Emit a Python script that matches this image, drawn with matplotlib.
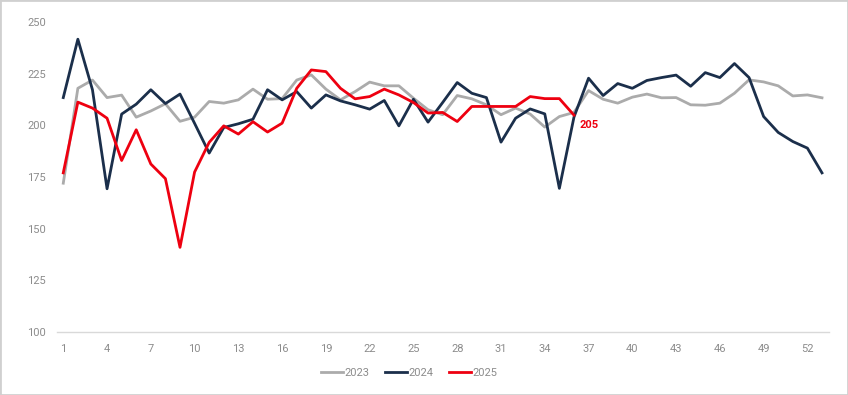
import matplotlib.pyplot as plt
from matplotlib.patches import Rectangle

plt.rcParams['font.family'] = ['Roboto', 'DejaVu Sans']

# semanas
semanas = list(range(1, 54))

v2023 = [172, 218, 222, 213.5, 214.7, 204, 207, 210.5, 202, 204,
         211.6, 210.8, 212.4, 217.6, 212.7, 213, 222, 224.5, 217.6, 212.4,
         216.4, 221, 219.2, 219.2, 213.2, 207.6, 205.2, 214.5, 212.9, 210,
         205.2, 208.4, 205.5, 199.2, 204.3, 206.3, 216.9, 212.7, 210.8, 213.7,
         215.2, 213.4, 213.5, 210, 209.8, 210.8, 215.6, 222.1, 221.1, 219.2,
         214.3, 214.8, 213.4]

v2024 = [213.5, 241.8, 217.3, 169.3, 205.5, 210.3, 217.3, 210.6, 215.2, 201,
         186.6, 199, 200.8, 203, 217.3, 212.4, 216.4, 208.4, 214.8, 211.9,
         210, 207.9, 212.1, 199.8, 212.7, 201.6, 211.1, 220.8, 215.6, 213.5,
         191.9, 203.5, 208, 205.6, 169.5, 204, 222.9, 214.5, 220.3, 218,
         221.8, 223.2, 224.4, 219, 225.6, 223.2, 230, 223.2, 204.3, 196.6,
         192.2, 189, 177]

v2025 = [177, 211.3, 208.4, 203.5, 183, 197.9, 181.3, 174.2, 140.9, 177.4,
         191.8, 199.8, 195.8, 201.8, 196.8, 201.1, 218, 226.9, 226.1, 218,
         212.9, 214, 217.6, 214.8, 211.1, 206, 206.3, 201.9, 209.2, 209.2,
         209.2, 209.2, 214, 213, 213, 205]

cinza = "#ababab"
azul = "#1b2f4b"
vermelho = "#ee0010"
txt = "#8c8c8c"

fig = plt.figure(figsize=(8.48, 3.95), dpi=100)
ax = fig.add_axes([57/848, 1 - 331.7/395, (829 - 57)/848, (331.7 - 22.3)/395])

ax.plot(semanas, v2023, color=cinza, linewidth=2.0, label="2023")
ax.plot(semanas, v2024, color=azul, linewidth=2.0, label="2024")
ax.plot(semanas[:len(v2025)], v2025, color=vermelho, linewidth=2.0, label="2025")

# rótulo do último valor
ax.annotate(f"{v2025[-1]:.0f}", (len(v2025), v2025[-1]), xytext=(4, -7),
            textcoords="offset points", ha="left", va="center",
            color=vermelho, fontsize=8, fontweight="bold")

ax.set_xlim(0.57, 53.48)
ax.set_ylim(100, 250)
ax.set_xticks(list(range(1, 53, 3)))
ax.set_yticks([100, 125, 150, 175, 200, 225, 250])

for s in ["top", "right", "left"]:
    ax.spines[s].set_visible(False)
ax.spines["bottom"].set_color("#d9d9d9")
ax.spines["bottom"].set_linewidth(1.0)
ax.tick_params(axis="both", length=0, labelsize=8, colors=txt)
ax.tick_params(axis="y", pad=8)
ax.tick_params(axis="x", pad=9)

fig.legend(loc="center", bbox_to_anchor=(409/848, 1 - 373/395), ncol=3,
           frameon=False, fontsize=8, labelcolor=txt, handlelength=2.0,
           handletextpad=0.1, columnspacing=1.4)

# moldura
fig.patches.append(Rectangle((0, 0), 1, 1, transform=fig.transFigure,
                             fill=False, edgecolor="#d0d0d0", linewidth=2))

fig.savefig("out.png", dpi=100)
